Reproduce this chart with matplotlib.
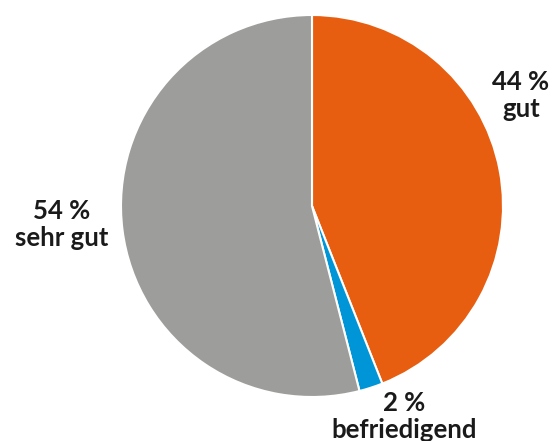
import numpy as np
import matplotlib.pyplot as plt

labels = ["gut", "befriedigend", "sehr gut"]
values = [44, 2, 54]
colors = ["#E85E10", "#0095D6", "#9D9D9B"]

plt.rcParams['font.family'] = ['Lato', 'DejaVu Sans']

fig = plt.figure(figsize=(5.54, 4.41), dpi=100)
cx, cy, r = 312, 206, 191
ax = fig.add_axes([(cx - r) / 554, (441 - cy - r) / 441, 2 * r / 554, 2 * r / 441])

ax.pie(values, colors=colors, startangle=90, counterclock=False, radius=1,
       wedgeprops=dict(edgecolor="white", linewidth=1.5))
ax.set_xlim(-1, 1)
ax.set_ylim(-1, 1)
ax.set_aspect("equal")
ax.axis("off")

# label positions in axes data units
label_pos = [(1.094, 0.581), (0.482, -1.10), (-1.309, -0.099)]
for lab, v, (x, y) in zip(labels, values, label_pos):
    ax.text(x, y, f"{v} %\n{lab}", ha="center", va="center", fontsize=18.5,
            fontweight="bold", color="#1a1a1a", linespacing=1.15, clip_on=False)

fig.savefig("out.png", dpi=100)
